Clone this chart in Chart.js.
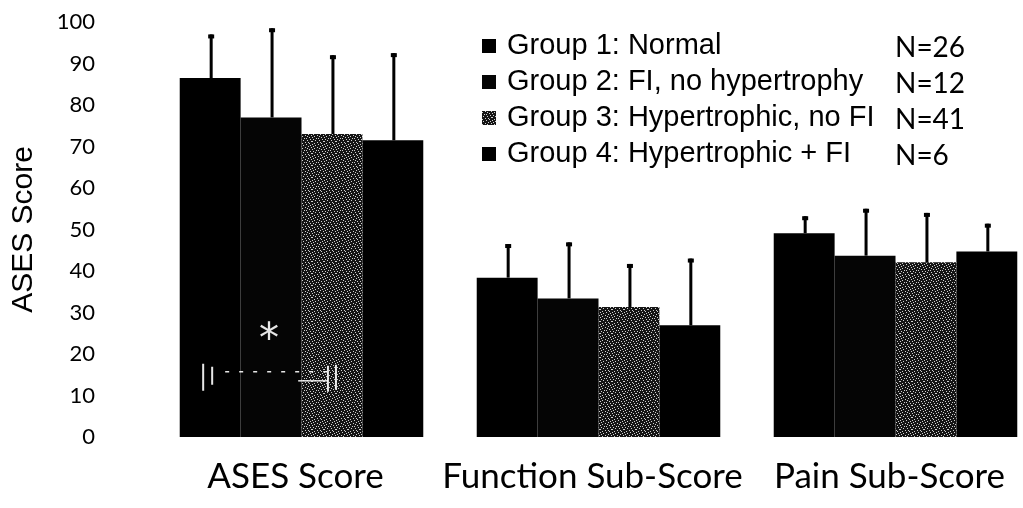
<!DOCTYPE html>
<html>
<head>
<meta charset="utf-8">
<script src="https://cdn.jsdelivr.net/npm/chart.js@4.4.1/dist/chart.umd.min.js"></script>
<style>
html,body{margin:0;padding:0;background:#fff;overflow:hidden;width:1023px;height:508px}
#wrap{position:relative;width:1060px;height:508px}
canvas{display:block}
</style>
</head>
<body>
<div id="wrap"><canvas id="c" width="1060" height="508"></canvas></div>
<script>
// ---- data ----
const categories = ['ASES Score', 'Function Sub-Score', 'Pain Sub-Score'];
const groupLabels = ['Group 1: Normal', 'Group 2: FI, no hypertrophy', 'Group 3: Hypertrophic, no FI', 'Group 4: Hypertrophic + FI'];
const groupCounts = ['N=26', 'N=12', 'N=41', 'N=6'];
const group1Means = [86.5, 38.4, 49.1];
const group2Means = [77.0, 33.4, 43.7];
const group3Means = [73.0, 31.3, 42.1];
const group4Means = [71.5, 26.9, 44.7];
const group1Upper = [97.0, 46.5, 53.2];
const group2Upper = [98.5, 46.9, 55.0];
const group3Upper = [92.0, 41.7, 54.0];
const group4Upper = [92.5, 43.0, 51.4];
const yTickValues = [0, 10, 20, 30, 40, 50, 60, 70, 80, 90, 100];
const significance = { category: 0, fromGroup: 0, toGroup: 2, starGroup: 1, label: '*' };

function draw() {
  const canvas = document.getElementById('c');
  const mainCtx = canvas.getContext('2d');

  // speckled fill for group 3 (fixed bitmap tile)
  const tileRows = [
    '100000100000',
    '000100000010',
    '010000001000',
    '000001000001',
    '001000010000',
    '100000000100',
    '000010100000',
    '010000000010',
    '000100010000',
    '100000000001',
    '000001001000',
    '001000000100'
  ];
  const tile = document.createElement('canvas');
  tile.width = 12; tile.height = 12;
  const tg = tile.getContext('2d');
  tg.fillStyle = '#151515'; tg.fillRect(0, 0, 12, 12);
  tg.fillStyle = '#d0d0d0';
  tileRows.forEach((r, y) => [...r].forEach((b, x) => { if (b === '1') tg.fillRect(x, y, 1, 1); }));
  const speckle = mainCtx.createPattern(tile, 'repeat');

  const fills = ['#000', '#050505', speckle, '#000'];
  const means = [group1Means, group2Means, group3Means, group4Means];
  const uppers = [group1Upper, group2Upper, group3Upper, group4Upper];

  const errorBars = {
    id: 'errorBars',
    afterDatasetsDraw(chart) {
      const ctx = chart.ctx, y = chart.scales.y;
      ctx.save();
      ctx.fillStyle = '#000';
      chart.data.datasets.forEach((ds, di) => {
        chart.getDatasetMeta(di).data.forEach((bar, i) => {
          const top = y.getPixelForValue(ds.upper[i]);
          const x = bar.x + 1;
          ctx.fillRect(x - 1.5, top, 3, bar.y - top);
          ctx.fillRect(x - 3, top, 6, 4);
        });
      });
      ctx.restore();
    }
  };

  const sigMarks = {
    id: 'sigMarks',
    afterDatasetsDraw(chart) {
      const ctx = chart.ctx, y = chart.scales.y;
      const a = chart.getDatasetMeta(significance.fromGroup).data[significance.category];
      const b = chart.getDatasetMeta(significance.toGroup).data[significance.category];
      const s = chart.getDatasetMeta(significance.starGroup).data[significance.category];
      const yb = y.getPixelForValue(14.5);
      const x1 = a.x - 7, x2 = b.x + 4;
      ctx.save();
      ctx.strokeStyle = 'rgba(255,255,255,0.9)';
      ctx.lineWidth = 2;
      ctx.beginPath();
      ctx.moveTo(x1, yb - 13); ctx.lineTo(x1, yb + 14);
      ctx.moveTo(x1 + 9, yb - 10); ctx.lineTo(x1 + 9, yb + 8);
      ctx.moveTo(x2 - 8, yb - 11); ctx.lineTo(x2 - 8, yb + 15);
      ctx.moveTo(x2, yb - 12); ctx.lineTo(x2, yb + 13);
      ctx.stroke();
      ctx.lineWidth = 1.5;
      ctx.setLineDash([4, 10]);
      ctx.beginPath();
      ctx.moveTo(x1 + 22, yb - 5); ctx.lineTo(x2 - 8, yb - 5);
      ctx.stroke();
      ctx.setLineDash([]);
      ctx.beginPath();
      ctx.moveTo(x1 + 95, yb + 4); ctx.lineTo(x2 - 8, yb + 4);
      ctx.stroke();
      ctx.fillStyle = 'rgba(255,255,255,0.9)';
      ctx.font = '40px "DejaVu Sans", sans-serif';
      ctx.textAlign = 'center';
      ctx.textBaseline = 'middle';
      ctx.fillText(significance.label, s.x - 2, y.getPixelForValue(25) + 8);
      ctx.restore();
    }
  };

  const sideLegend = {
    id: 'sideLegend',
    afterDraw(chart) {
      const ctx = chart.ctx;
      const rowY = [46, 82, 118, 154];
      ctx.save();
      ctx.textAlign = 'left';
      ctx.textBaseline = 'middle';
      groupLabels.forEach((lab, i) => {
        ctx.fillStyle = fills[i];
        ctx.fillRect(482, rowY[i] - 7, 14, 14);
        ctx.fillStyle = '#000';
        ctx.font = '29px "Liberation Sans", Arial, sans-serif';
        ctx.fillText(lab, 507, rowY[i]);
        ctx.font = '28px Lato, sans-serif';
        ctx.fillText(groupCounts[i], 895, rowY[i] + 2);
      });
      ctx.restore();
    }
  };

  new Chart(canvas, {
    type: 'bar',
    data: {
      labels: categories,
      datasets: groupLabels.map((lab, i) => ({
        label: lab,
        data: means[i],
        upper: uppers[i],
        backgroundColor: fills[i],
        borderWidth: 0,
        barPercentage: 1.0,
        categoryPercentage: 0.82
      }))
    },
    options: {
      responsive: false,
      animation: false,
      layout: { padding: { top: 22, right: 16, left: 0, bottom: 0 } },
      plugins: { legend: { display: false }, tooltip: { enabled: false } },
      scales: {
        x: {
          grid: { display: false, drawTicks: false },
          border: { display: false },
          ticks: { color: '#000', font: { family: 'Lato', size: 35 }, padding: 19, labelOffset: -6, maxRotation: 0, autoSkip: false },
          afterFit(scale) { scale.height = 71; scale.paddingTop = 0; scale.paddingBottom = 0; }
        },
        y: {
          min: 0, max: 100,
          grid: { display: false, drawTicks: false },
          border: { display: false },
          afterBuildTicks(scale) { scale.ticks = yTickValues.map(v => ({ value: v })); },
          ticks: { color: '#000', font: { family: 'Lato', size: 22 }, padding: 58 },
          title: { display: true, text: 'ASES Score', color: '#000', font: { family: 'Liberation Sans', size: 30 }, padding: { top: 6, bottom: 0 } },
          afterFit(scale) { scale.width = 153; scale.paddingTop = 0; scale.paddingBottom = 0; }
        }
      }
    },
    plugins: [sigMarks, errorBars, sideLegend]
  });
}

Promise.all([
  document.fonts.load('34px Lato'),
  document.fonts.load('28px "Liberation Sans"'),
  document.fonts.load('40px "DejaVu Sans"')
]).then(draw, draw);
</script>
</body>
</html>
